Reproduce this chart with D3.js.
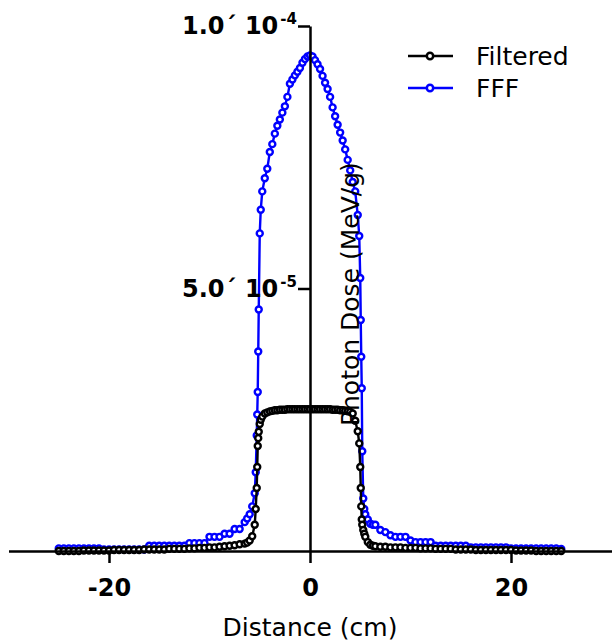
<!DOCTYPE html>
<html>
<head>
<meta charset="utf-8">
<script src="https://cdn.jsdelivr.net/npm/d3@7"></script>
<style>
  html, body { margin: 0; padding: 0; background: #ffffff; }
  svg { display: block; }
  text { font-family: "DejaVu Sans", sans-serif; fill: #000; }
</style>
</head>
<body>
<script>
// ---- data (dose in units of 1e-5 MeV/g) ----
const distance = [
  -25,-24.5,-24,-23.5,-23,-22.5,-22,-21.5,-21,-20.5,-20,-19.5,-19,-18.5,-18,-17.5,-17,-16.5,-16,-15.5,
  -15,-14.5,-14,-13.5,-13,-12.5,-12,-11.5,-11,-10.5,-10,-9.5,-9,-8.5,-8,-7.5,-7,-6.5,
  -6.25,-6,-5.75,-5.5,-5.4,-5.3,-5.25,-5.2,-5.15,-5.1,-5,-4.9,-4.75,-4.5,
  -4.25,-4,-3.75,-3.5,-3.25,-3,-2.75,-2.5,-2.25,-2,-1.75,-1.5,-1.25,-1,-0.75,-0.5,-0.25,0,
  0.25,0.5,0.75,1,1.25,1.5,1.75,2,2.25,2.5,2.75,3,3.25,3.5,3.75,4,4.25,
  4.5,4.75,4.9,5,5.05,5.1,5.15,5.2,5.3,5.4,5.5,5.75,6,6.25,
  6.5,7,7.5,8,8.5,9,9.5,10,10.5,11,11.5,12,12.5,13,13.5,14,14.5,15,15.5,16,
  16.5,17,17.5,18,18.5,19,19.5,20,20.5,21,21.5,22,22.5,23,23.5,24,24.5,25
];
const filtered = [
  0,0,0,0,0,0.01,0.01,0.01,0.01,0.01,0.01,0.02,0.02,0.02,0.02,0.02,0.02,0.03,0.03,0.03,
  0.03,0.03,0.04,0.04,0.04,0.04,0.05,0.05,0.06,0.06,0.07,0.07,0.08,0.09,0.10,0.11,0.13,0.14,
  0.16,0.2,0.28,0.5,0.8,1.2,1.6,2.0,2.15,2.27,2.42,2.5,2.56,2.62,
  2.64,2.66,2.67,2.68,2.68,2.69,2.69,2.69,2.70,2.70,2.70,2.70,2.70,2.70,2.70,2.70,2.70,2.70,
  2.70,2.70,2.70,2.70,2.70,2.70,2.70,2.70,2.69,2.69,2.69,2.68,2.68,2.67,2.66,2.65,2.62,
  2.48,2.28,2.05,1.6,1.2,0.85,0.6,0.5,0.4,0.33,0.27,0.17,0.12,0.1,
  0.09,0.08,0.08,0.07,0.07,0.07,0.06,0.06,0.06,0.05,0.05,0.05,0.04,0.04,0.04,0.04,0.03,0.03,0.03,0.03,
  0.02,0.02,0.02,0.02,0.02,0.02,0.02,0.02,0.01,0.01,0.01,0.01,0,0,0,0,0,0
];
const fff = [
  0.05,0.05,0.05,0.05,0.05,0.05,0.05,0.05,0.05,0.03,0.03,0.03,0.03,0.03,0.03,0.03,0.03,0.03,0.10,0.10,
  0.10,0.10,0.10,0.10,0.10,0.10,0.15,0.15,0.15,0.15,0.27,0.27,0.27,0.33,0.33,0.42,0.42,0.55,
  0.62,0.7,0.85,1.1,1.5,2.2,2.6,3.03,3.8,4.6,6.05,6.5,6.85,7.1,
  7.28,7.6,7.75,7.95,8.1,8.22,8.35,8.47,8.65,8.9,8.98,9.06,9.13,9.2,9.3,9.37,9.42,9.44,
  9.42,9.35,9.27,9.18,9.05,8.92,8.8,8.65,8.45,8.28,8.12,7.97,7.82,7.65,7.45,7.25,7.03,
  6.85,6.4,6.0,5.2,4.4,3.7,3.1,1.9,1.0,0.8,0.7,0.6,0.52,0.5,
  0.5,0.4,0.36,0.3,0.27,0.27,0.27,0.2,0.17,0.17,0.17,0.17,0.1,0.1,0.1,0.1,0.1,0.1,0.1,0.07,
  0.07,0.07,0.07,0.07,0.07,0.07,0.07,0.05,0.05,0.05,0.05,0.05,0.05,0.05,0.05,0.05,0.05,0.04
];
const seriesNames = ["Filtered", "FFF"];
const seriesColors = ["#000000", "#0000ff"];
const xTicks = [-20, 0, 20];
const xTickLabels = ["-20", "0", "20"];
const yTicks = [5, 10];
const yTickBase = ["5.0\u00B4 10", "1.0\u00B4 10"];
const yTickExp = ["-5", "-4"];
const xTitle = "Distance (cm)";
const yTitle = "Photon Dose (MeV/g)";

// ---- chart ----
const W = 613, H = 641;
const svg = d3.select("body").append("svg").attr("width", W).attr("height", H);

const x = d3.scaleLinear().domain([-30, 30]).range([8.5, 611.5]);
const y = d3.scaleLinear().domain([0, 10]).range([551, 26]);

const line = d3.line().x(d => x(d[0])).y(d => y(d[1]));

function drawSeries(vals, color) {
  const pts = distance.map((d, i) => [d, vals[i]]);
  const g = svg.append("g");
  g.append("path").datum(pts).attr("d", line)
    .attr("fill", "none").attr("stroke", color).attr("stroke-width", 2.4);
  g.selectAll("circle").data(pts).enter().append("circle")
    .attr("cx", d => x(d[0])).attr("cy", d => y(d[1])).attr("r", 3)
    .attr("fill", "#fff").attr("stroke", color).attr("stroke-width", 2.4);
}
drawSeries(fff, seriesColors[1]);
drawSeries(filtered, seriesColors[0]);

// y-axis title
svg.append("text")
  .attr("transform", `translate(${x(4.2)},${y(4.95) + 3}) rotate(-90)`)
  .attr("text-anchor", "middle").attr("dominant-baseline", "middle")
  .attr("font-size", 25).text(yTitle);

// x axis
const xAxis = d3.axisBottom(x).tickValues(xTicks).tickSize(12).tickSizeOuter(0)
  .tickFormat((d, i) => xTickLabels[i]);
const gx = svg.append("g").attr("transform", `translate(0,${y(0)})`).call(xAxis);
gx.select(".domain").attr("stroke", "#000").attr("stroke-width", 2.5);
gx.selectAll(".tick line").attr("stroke", "#000").attr("stroke-width", 2.5);
gx.selectAll(".tick text").attr("font-family", "DejaVu Sans").attr("font-weight", "bold")
  .attr("font-size", 24).attr("fill", "#000").attr("dy", null).attr("y", 45);

// y axis
const yAxis = d3.axisLeft(y).tickValues(yTicks).tickSize(12).tickSizeOuter(0).tickFormat("");
const gy = svg.append("g").attr("transform", `translate(${x(0)},0)`).call(yAxis);
gy.select(".domain").attr("stroke", "#000").attr("stroke-width", 2.5);
gy.selectAll(".tick line").attr("stroke", "#000").attr("stroke-width", 2.5);
yTicks.forEach((t, i) => {
  const tx = svg.append("text")
    .attr("x", 297).attr("y", y(t) + 8)
    .attr("text-anchor", "end").attr("font-weight", "bold").attr("font-size", 24);
  tx.append("tspan").text(yTickBase[i]);
  tx.append("tspan").attr("font-size", 15).attr("dy", -10).attr("dx", 2).text(yTickExp[i]);
});

// x title
svg.append("text").attr("x", x(0)).attr("y", 636).attr("text-anchor", "middle")
  .attr("font-size", 25).text(xTitle);

// legend
const legY = [56, 88];
seriesNames.forEach((name, i) => {
  const g = svg.append("g");
  g.append("line").attr("x1", 408).attr("x2", 453).attr("y1", legY[i]).attr("y2", legY[i])
    .attr("stroke", seriesColors[i]).attr("stroke-width", 2.5);
  g.append("circle").attr("cx", 430).attr("cy", legY[i]).attr("r", 3.2)
    .attr("fill", "#fff").attr("stroke", seriesColors[i]).attr("stroke-width", 2.5);
  g.append("text").attr("x", 476).attr("y", legY[i] + 9).attr("font-size", 25).text(name);
});
</script>
</body>
</html>
